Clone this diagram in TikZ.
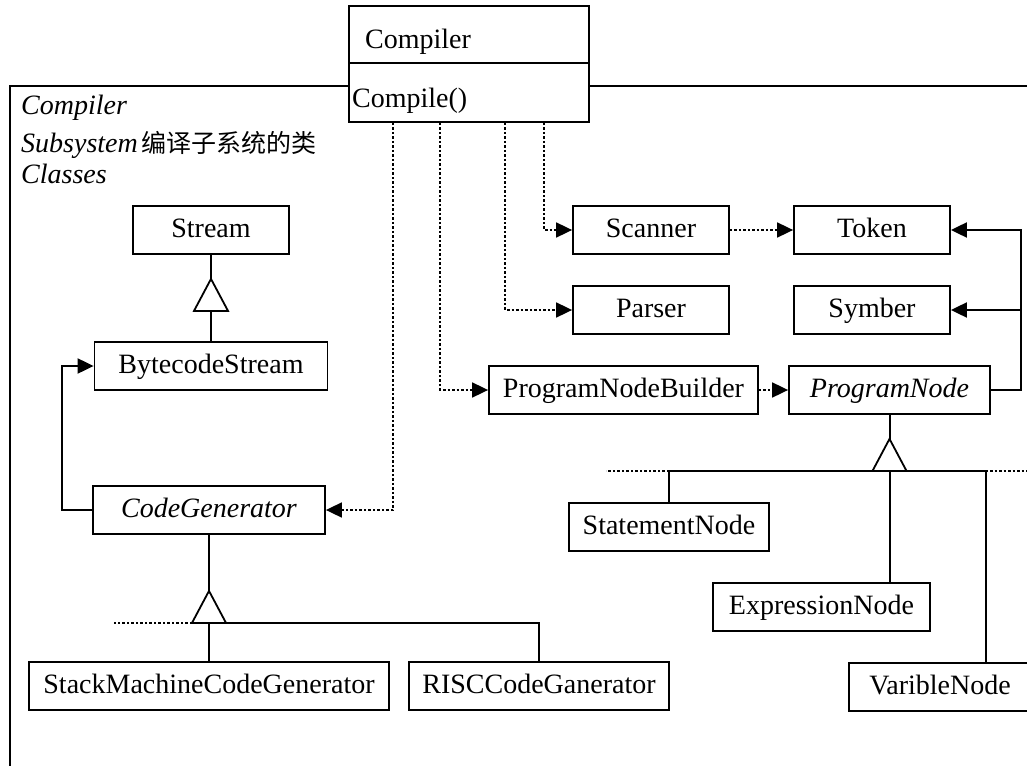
\documentclass[tikz,border=0pt]{standalone}
\usepackage{fontspec}
\setmainfont{Liberation Serif}
\newfontfamily\cjk{Noto Sans CJK SC}
\usetikzlibrary{arrows.meta}

\begin{document}
\begin{tikzpicture}[
		x=1pt, y=-1pt,
		font=\fontsize{28}{34}\selectfont,
		classbox/.style={draw, line width=1.8pt, fill=white, minimum height=48pt, inner sep=0pt, text height=21pt, text depth=6pt},
		abstractbox/.style={classbox, font=\fontsize{28}{34}\selectfont\itshape},
		titletext/.style={anchor=base west, inner sep=0pt, font=\fontsize{28}{34}\selectfont\itshape},
		dep/.style={line width=1.8pt, dash pattern=on 2.5pt off 2pt, -{Triangle[length=16pt,width=15pt]}},
		assoc/.style={line width=2pt, -{Triangle[length=16pt,width=15pt]}},
		genline/.style={line width=2pt},
		gentri/.style={line width=1.8pt, fill=white},
		dotline/.style={line width=1.8pt, dash pattern=on 2.5pt off 2pt}
	]
	\useasboundingbox (0,0) rectangle (1027,765);

	% subsystem frame
	\draw[line width=1.6pt] (10,770) -- (10,86) -- (1030,86);
	\node[titletext] (titlea) at (21,115) {Compiler};
	\node[titletext] (titleb) at (21,152) {Subsystem\hspace{4pt}{\cjk\upshape\fontsize{25}{30}\selectfont 编译子系统的类}};
	\node[titletext] (titlec) at (21,183) {Classes};

	% Compiler class
	\node[classbox, minimum width=240pt, minimum height=57pt] (compiler) at (469,34.5) {};
	\node[classbox, minimum width=240pt, minimum height=59pt] (compops) at (469,92.5) {};
	\node[anchor=base west, inner sep=0pt] (compname) at (365,49) {Compiler};
	\node[anchor=base west, inner sep=0pt] (compop) at (352,108) {Compile()};

	% classes
	\node[classbox, minimum width=156pt] (stream) at (211,230) {Stream};
	\node[classbox, minimum width=233pt] (bytestream) at (211,366) {BytecodeStream};
	\node[abstractbox, minimum width=232pt] (codegen) at (209,510) {CodeGenerator};
	\node[classbox, minimum width=360pt] (stackgen) at (209,686) {StackMachineCodeGenerator};
	\node[classbox, minimum width=260pt] (riscgen) at (539,686) {RISCCodeGanerator};
	\node[classbox, minimum width=156pt] (scanner) at (651,230) {Scanner};
	\node[classbox, minimum width=156pt] (token) at (872,230) {Token};
	\node[classbox, minimum width=156pt] (parser) at (651,310) {Parser};
	\node[classbox, minimum width=156pt] (symber) at (872,310) {Symber};
	\node[classbox, minimum width=269pt] (builder) at (623.5,390) {ProgramNodeBuilder};
	\node[abstractbox, minimum width=201pt] (prognode) at (889.5,390) {ProgramNode};
	\node[classbox, minimum width=200pt] (stmtnode) at (669,527) {StatementNode};
	\node[classbox, minimum width=217pt] (exprnode) at (821.5,607) {ExpressionNode};
	\node[classbox, minimum width=182pt] (varnode) at (940,687) {VaribleNode};

	% dependencies
	\draw[dep] (compops.south west) ++(45,0) |- (codegen.east);
	\draw[dep] (compops.south west) ++(92,0) |- (builder.west);
	\draw[dep] (compops.south west) ++(157,0) |- (parser.west);
	\draw[dep] (compops.south west) ++(196,0) |- (scanner.west);
	\draw[dep] (scanner) -- (token);
	\draw[dep] (builder) -- (prognode);

	% associations
	\draw[assoc] (prognode.east) -- ++(30,0) coordinate (bus) |- (token.east);
	\draw[assoc] (bus |- symber.east) -- (symber.east);
	\draw[assoc] (codegen.west) -- ++(-30,0) |- (bytestream.west);

	% generalisations
	\draw[genline] (bytestream.north) -- (stream.south);
	\draw[gentri] (stream.south) ++(0,24) -- ++(-17,32) -- ++(34,0) -- cycle;

	\draw[genline] (codegen.south) -- ++(0,88) coordinate (cgbar) -| (riscgen.north);
	\draw[genline] (cgbar) -- (stackgen.north);
	\draw[dotline] (cgbar) ++(-17,0) -- ++(-78,0);
	\draw[gentri] (codegen.south) ++(0,56) -- ++(-17,32) -- ++(34,0) -- cycle;

	\draw[genline] (prognode.south) -- ++(0,56) coordinate (pnbar) -- (pnbar |- exprnode.north);
	\draw[genline] (stmtnode.north) |- (pnbar) -- ++(96,0) coordinate (pnend) -- (pnend |- varnode.north);
	\draw[dotline] (stmtnode.north |- pnbar) -- ++(-63,0);
	\draw[dotline] (pnend) -- ++(45,0);
	\draw[gentri] (prognode.south) ++(0,24) -- ++(-17,32) -- ++(34,0) -- cycle;
\end{tikzpicture}
\end{document}
